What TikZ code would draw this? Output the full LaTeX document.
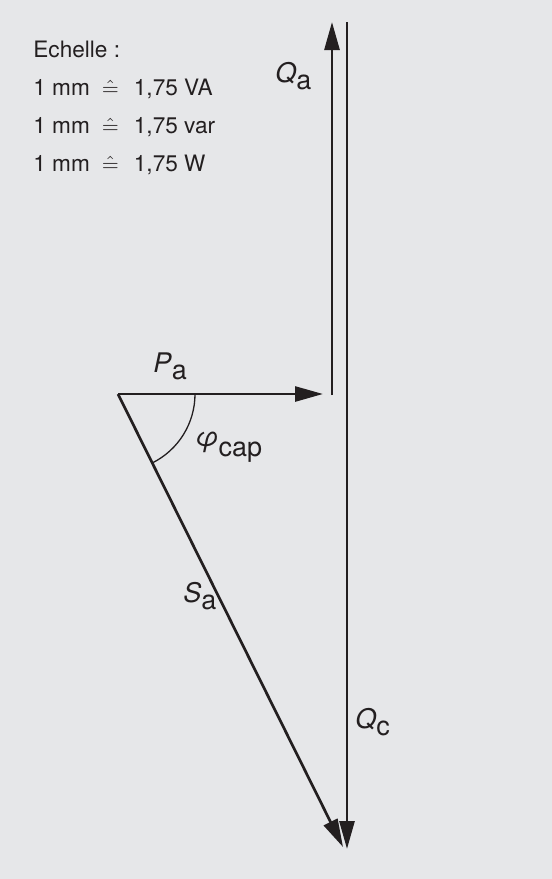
\documentclass[tikz,border=0pt]{standalone}
\usepackage{fontspec}
\setmainfont{TeX Gyre Heros}
\usepackage{xcolor}
\usetikzlibrary{arrows.meta,angles}

\definecolor{bggray}{RGB}{230,231,233}
\definecolor{ink}{RGB}{35,31,32}

\newcommand{\vsub}[2]{\textit{#1}\raisebox{-3.5pt}{#2}}
\newcommand{\corr}{\hspace{6pt}$\hat{=}$\hspace{7.5pt}}

\begin{document}
\begin{tikzpicture}[
  x=0.5pt, y=-0.5pt,
  scaletxt/.style={anchor=base west, inner sep=0pt, text=ink,
                   font=\fontsize{11.3}{14}\selectfont},
  lbl/.style     ={anchor=base west, inner sep=0pt, text=ink,
                   font=\fontsize{13.5}{16}\selectfont},
  vec/.style     ={draw=ink, line width=1.35pt,
                   -{Triangle[length=14pt, width=7.5pt]}},
  plain/.style   ={draw=ink, line width=1.35pt}
]

\fill[bggray] (0,0) rectangle (552,879);
\useasboundingbox (0,0) rectangle (552,879);

% scale
\node[scaletxt] (ech) at (33,57)  {Echelle :};
\node[scaletxt] (va)  at (33,95)  {1 mm\corr 1,75 VA};
\node[scaletxt] (var) at (33,133) {1 mm\corr 1,75 var};
\node[scaletxt] (w)   at (33,171) {1 mm\corr 1,75 W};

% vector points
\coordinate (o)   at (118,394);
\coordinate (pt)  at (323,394);
\coordinate (qab) at (332,395);
\coordinate (qat) at (332,22);
\coordinate (qct) at (347,22);
\coordinate (qcm) at (347,395);
\coordinate (qcb) at (347,849);
\coordinate (st)  at (343,847);

\draw[vec] (o) -- (pt);
\draw[vec] (qab) -- (qat);
\draw[plain] (qct) -- (qcm);
\draw[vec] (qcm) -- (qcb);
\draw[vec] (o) -- (st);

\pic[draw=ink, line width=0.65pt, angle radius=38.5pt] {angle=st--o--pt};

% labels
\node[lbl] (pa)  at (153,372) {\vsub{P}{a}};
\node[lbl] (qa)  at (275,82)  {\vsub{Q}{a}};
\node[lbl] (sa)  at (183,602) {\vsub{S}{a}};
\node[lbl] (qc)  at (355,728) {\vsub{Q}{c}};
\node[lbl] (phi) at (195,446) {\textit{φ}\raisebox{-5pt}{cap}};

\end{tikzpicture}
\end{document}
